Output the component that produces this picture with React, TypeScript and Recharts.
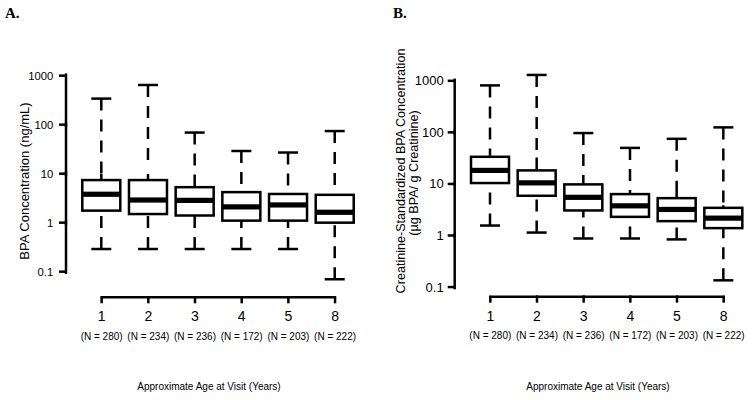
import React from 'react';
import { ComposedChart, Bar, XAxis, YAxis } from 'recharts';

const visits = ['1', '2', '3', '4', '5', '8'];
const sampleSizes = [280, 234, 236, 172, 203, 222];
const yTicks = [0.1, 1, 10, 100, 1000];

// Panel A: BPA concentration (ng/mL)
const minA = [0.29, 0.29, 0.29, 0.29, 0.29, 0.07];
const q1A = [1.76, 1.5, 1.4, 1.1, 1.1, 1.0];
const medA = [3.8, 2.9, 2.85, 2.1, 2.3, 1.63];
const q3A = [7.4, 7.4, 5.3, 4.2, 3.85, 3.7];
const maxA = [340, 645, 69, 29, 27, 74];

// Panel B: creatinine-standardized BPA concentration (µg BPA / g creatinine)
const minB = [1.56, 1.14, 0.875, 0.875, 0.84, 0.135];
const q1B = [10.4, 5.9, 3.06, 2.3, 1.9, 1.39];
const medB = [18.3, 10.5, 5.5, 3.76, 3.2, 2.17];
const q3B = [33.6, 18.3, 9.8, 6.35, 5.3, 3.44];
const maxB = [815, 1300, 97, 50, 75, 125];

type Row = { visit: string; n: number; min: number; q1: number; med: number; q3: number; max: number };

function buildRows(mins: number[], q1s: number[], meds: number[], q3s: number[], maxs: number[]): Row[] {
  return visits.map((v, i) => ({ visit: v, n: sampleSizes[i], min: mins[i], q1: q1s[i], med: meds[i], q3: q3s[i], max: maxs[i] }));
}

const rowsA = buildRows(minA, q1A, medA, q3A, maxA);
const rowsB = buildRows(minB, q1B, medB, q3B, maxB);

const FONT = '"Liberation Sans", Arial, Helvetica, sans-serif';
const SW = 2.5;

function Whisker(props: any) {
  const { x, y, width, height } = props;
  if (x == null || y == null) return null;
  const cx = x + width / 2;
  const top = y;
  const bottom = y + height;
  const mid = y + height / 2;
  const cap = 10;
  return (
    <g>
      <line x1={cx} x2={cx} y1={top} y2={mid} stroke="#000" strokeWidth={SW} strokeDasharray="12 9" />
      <line x1={cx} x2={cx} y1={bottom} y2={mid} stroke="#000" strokeWidth={SW} strokeDasharray="12 9" />
      <line x1={cx - cap} x2={cx + cap} y1={top} y2={top} stroke="#000" strokeWidth={SW} />
      <line x1={cx - cap} x2={cx + cap} y1={bottom} y2={bottom} stroke="#000" strokeWidth={SW} />
    </g>
  );
}

function BoxShape(props: any) {
  const { x, y, width, height } = props;
  if (x == null || y == null) return null;
  return <rect x={x} y={y} width={width} height={height} fill="#fff" stroke="#000" strokeWidth={SW} />;
}

function MedianShape(props: any) {
  const { x, y, width } = props;
  if (x == null || y == null) return null;
  return <rect x={x} y={y - 2.6} width={width} height={5.2} fill="#000" />;
}

function makeYTick(fontSize: number, gap: number) {
  const state: { prev: number | null } = { prev: null };
  return (props: any) => {
    const { x, y, payload, index } = props;
    if (index === 0) state.prev = null;
    const prev = state.prev;
    state.prev = y;
    return (
      <g>
        {prev !== null && (
          <line x1={x} x2={x} y1={prev + 1} y2={y - 1} stroke="#000" strokeWidth={SW} strokeLinecap="square" />
        )}
        <line x1={x - 7} x2={x} y1={y} y2={y} stroke="#000" strokeWidth={SW} />
        <text x={x - gap} y={y} textAnchor="end" dominantBaseline="central" fontSize={fontSize} fontFamily={FONT} fill="#000">
          {String(payload.value)}
        </text>
      </g>
    );
  };
}

function makeXTick() {
  const state: { prev: number | null } = { prev: null };
  return (props: any) => {
    const { x, y, payload, index } = props;
    if (index === 0) state.prev = null;
    const prev = state.prev;
    state.prev = x;
    const i = visits.indexOf(String(payload.value));
    return (
      <g>
        {prev !== null && <line x1={prev - 1} x2={x + 1} y1={y} y2={y} stroke="#000" strokeWidth={SW} />}
        <line x1={x} x2={x} y1={y - 1} y2={y + 6} stroke="#000" strokeWidth={SW} />
        <text x={x} y={y + 19} textAnchor="middle" dominantBaseline="central" fontSize={14} fontFamily={FONT} fill="#000">
          {visits[i]}
        </text>
        <text x={x} y={y + 39} textAnchor="middle" dominantBaseline="central" fontSize={10} fontFamily={FONT} fill="#000">
          {`(N = ${sampleSizes[i]})`}
        </text>
      </g>
    );
  };
}

type PanelProps = {
  rows: Row[];
  domain: [number, number];
  margin: { top: number; right: number; bottom: number; left: number };
  padLeft: number;
  padRight: number;
  yFont: number;
  yGap: number;
};

function Panel({ rows, domain, margin, padLeft, padRight, yFont, yGap }: PanelProps) {
  const pad = { left: padLeft, right: padRight };
  return (
    <ComposedChart width={377} height={400} data={rows} margin={margin} barCategoryGap={0}>
      <XAxis xAxisId="main" dataKey="visit" type="category" padding={pad} height={90} axisLine={false} tickLine={false} tickSize={0} tickMargin={0} interval={0} tick={makeXTick()} />
      <XAxis xAxisId="box" dataKey="visit" type="category" padding={pad} orientation="top" height={0} hide />
      <XAxis xAxisId="med" dataKey="visit" type="category" padding={pad} orientation="top" height={0} hide />
      <YAxis scale="log" type="number" domain={domain} ticks={yTicks} interval={0} width={50} axisLine={false} tickLine={false} tickSize={0} tickMargin={0} tick={makeYTick(yFont, yGap)} />
      <Bar xAxisId="main" dataKey={(d: Row) => [d.min, d.max]} barSize={38} shape={<Whisker />} isAnimationActive={false} />
      <Bar xAxisId="box" dataKey={(d: Row) => [d.q1, d.q3]} barSize={38} shape={<BoxShape />} isAnimationActive={false} />
      <Bar xAxisId="med" dataKey={(d: Row) => [d.q1, d.med]} barSize={38} shape={<MedianShape />} isAnimationActive={false} />
    </ComposedChart>
  );
}

const absText: React.CSSProperties = { position: 'absolute', whiteSpace: 'nowrap', fontFamily: FONT, color: '#000', lineHeight: 1 };
const serif = '"Liberation Serif", "Times New Roman", serif';

function Rotated({ cx, cy, size, children }: { cx: number; cy: number; size: number; children: React.ReactNode }) {
  return <div style={{ ...absText, left: cx, top: cy, fontSize: size, transform: 'translate(-50%, -50%) rotate(-90deg)' }}>{children}</div>;
}

function Centered({ cx, cy, size, children }: { cx: number; cy: number; size: number; children: React.ReactNode }) {
  return <div style={{ ...absText, left: cx, top: cy, fontSize: size, transform: 'translate(-50%, -50%)' }}>{children}</div>;
}

export default function App() {
  return (
    <div style={{ position: 'absolute', left: 0, top: 0, width: 754, height: 400, background: '#fff', overflow: 'hidden' }}>
      <div style={{ position: 'absolute', left: 0, top: 0 }}>
        <Panel rows={rowsA} domain={[0.03, 2000]} margin={{ top: 60.9, right: 10, bottom: 12.7, left: 16 }} padLeft={12.3} padRight={8.6} yFont={11.3} yGap={12.7} />
      </div>
      <div style={{ position: 'absolute', left: 377, top: 0 }}>
        <Panel rows={rowsB} domain={[0.065, 2500]} margin={{ top: 60.3, right: 3, bottom: 13.3, left: 27.7 }} padLeft={12.3} padRight={4} yFont={13} yGap={11} />
      </div>
      <div style={{ ...absText, left: 5, top: 6, fontSize: 15, fontWeight: 'bold', fontFamily: serif }}>A.</div>
      <div style={{ ...absText, left: 393, top: 6, fontSize: 15, fontWeight: 'bold', fontFamily: serif }}>B.</div>
      <Rotated cx={24} cy={181} size={13}>BPA Concentration (ng/mL)</Rotated>
      <Rotated cx={401} cy={171} size={12.6}>Creatinine-Standardized BPA Concentration</Rotated>
      <Rotated cx={414} cy={173} size={12.6}>(µg BPA/ g Creatinine)</Rotated>
      <Centered cx={209} cy={387} size={10}>Approximate Age at Visit (Years)</Centered>
      <Centered cx={598} cy={387} size={10}>Approximate Age at Visit (Years)</Centered>
    </div>
  );
}
